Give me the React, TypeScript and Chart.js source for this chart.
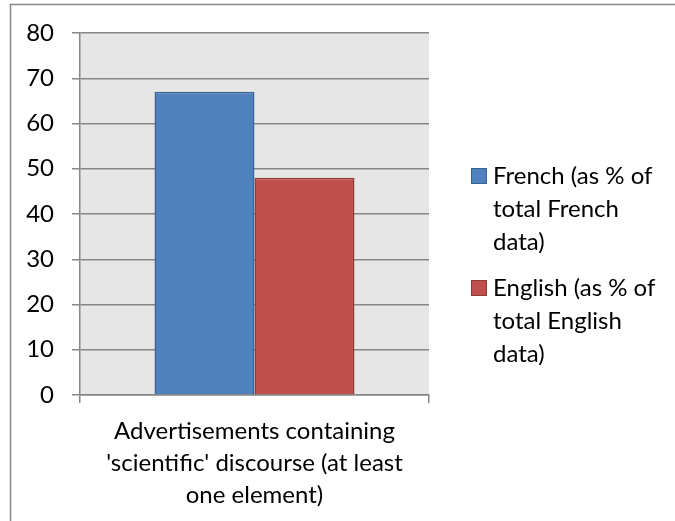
import React, { useEffect, useRef } from "react";
import { Chart, registerables } from "chart.js";

Chart.register(...registerables);

const categories: string[][] = [
  ["Advertisements containing", "'scientific' discourse (at least", "one element)"],
];
const seriesNames: string[] = ["French (as % of total French data)", "English (as % of total English data)"];
const legendLines: string[][] = [
  ["French (as % of", "total French", "data)"],
  ["English (as % of", "total English", "data)"],
];
const frenchValues: number[] = [67];
const englishValues: number[] = [48];
const yTicks: number[] = [0, 10, 20, 30, 40, 50, 60, 70, 80];

const FONT = "Lato, 'Open Sans', sans-serif";
const FS = 24;
const GRID = "#868686";
const fills = ["#4F81BD", "#C0504D"];
const borders = ["#3A6592", "#8E3C3A"];

const decorPlugin = {
  id: "decor",
  beforeDraw(chart: any) {
    const { ctx, chartArea } = chart;
    ctx.save();
    ctx.fillStyle = "#ffffff";
    ctx.fillRect(0, 0, chart.width, chart.height);
    ctx.fillStyle = "#E6E6E6";
    ctx.fillRect(chartArea.left, chartArea.top, chartArea.right - chartArea.left, chartArea.bottom - chartArea.top);
    ctx.strokeStyle = GRID;
    ctx.lineWidth = 1.5;
    ctx.beginPath();
    ctx.moveTo(10.5, chart.height);
    ctx.lineTo(10.5, 4.5);
    ctx.lineTo(chart.width, 4.5);
    ctx.stroke();
    ctx.restore();
  },
  afterDraw(chart: any) {
    const { ctx } = chart;
    ctx.save();
    ctx.font = `${FS}px ${FONT}`;
    ctx.textBaseline = "middle";
    ctx.textAlign = "left";
    const x0 = 471;
    const starts = [176, 288];
    const lh = 33;
    chart.data.datasets.forEach((ds: any, i: number) => {
      const y0 = starts[i];
      ctx.fillStyle = ds.backgroundColor;
      ctx.fillRect(x0, y0 - 8, 16, 16);
      ctx.strokeStyle = ds.borderColor;
      ctx.lineWidth = 1;
      ctx.strokeRect(x0 + 0.5, y0 - 7.5, 15, 15);
      ctx.fillStyle = "#000000";
      legendLines[i].forEach((line, j) => {
        ctx.fillText(line, 493, y0 + j * lh);
      });
    });
    ctx.restore();
  },
};

export default function App() {
  const ref = useRef<HTMLCanvasElement | null>(null);
  useEffect(() => {
    if (!ref.current) return;
    const chart = new Chart(ref.current, {
      type: "bar",
      data: {
        labels: categories,
        datasets: [
          {
            label: seriesNames[0],
            data: frenchValues,
            backgroundColor: fills[0],
            borderColor: borders[0],
            borderWidth: 1.5,
            categoryPercentage: 0.573,
            barPercentage: 1,
          },
          {
            label: seriesNames[1],
            data: englishValues,
            backgroundColor: fills[1],
            borderColor: borders[1],
            borderWidth: 1.5,
            categoryPercentage: 0.573,
            barPercentage: 1,
          },
        ],
      },
      options: {
        animation: false,
        responsive: false,
        maintainAspectRatio: false,
        layout: { padding: { left: 0, top: 33, right: 246, bottom: 0 } },
        plugins: {
          legend: { display: false },
          tooltip: { enabled: false },
        },
        scales: {
          x: {
            grid: {
              display: true,
              drawOnChartArea: false,
              drawTicks: true,
              tickLength: 8,
              color: GRID,
              lineWidth: 1.5,
              offset: true,
            },
            border: { display: true, color: GRID, width: 1.5 },
            ticks: {
              color: "#000000",
              font: { family: FONT, size: FS, lineHeight: 1.34 },
              padding: 12,
              maxRotation: 0,
              autoSkip: false,
            },
            afterFit(scale: any) {
              scale.height = 126;
            },
          },
          y: {
            min: 0,
            max: 80,
            afterBuildTicks(scale: any) {
              scale.ticks = yTicks.map((v) => ({ value: v }));
            },
            grid: {
              color: GRID,
              lineWidth: 1.5,
              tickLength: 8,
              drawTicks: true,
            },
            border: { display: true, color: GRID, width: 1.5 },
            ticks: {
              color: "#000000",
              font: { family: FONT, size: FS },
              padding: 18,
            },
            afterFit(scale: any) {
              scale.width = 80;
            },
          },
        },
      },
      plugins: [decorPlugin],
    });
    return () => chart.destroy();
  }, []);
  return (
    <div style={{ position: "absolute", left: 0, top: 0, width: 675, height: 521 }}>
      <canvas ref={ref} width={675} height={521} style={{ width: 675, height: 521, display: "block" }} />
    </div>
  );
}
